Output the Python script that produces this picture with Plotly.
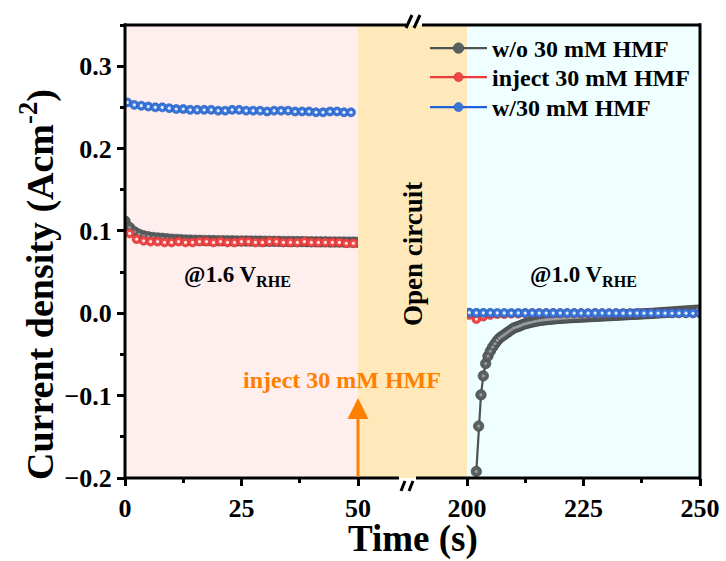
import numpy as np
import plotly.graph_objects as go

# ---------------- data ----------------
# sampling times (s); the middle open-circuit interval (50-200 s) carries no current
t_wo_a = np.arange(0.0, 50.5, 1.0)        # w/o HMF, polarised at 1.6 V
t_wo_b = np.arange(202.0, 250.25, 0.5)    # w/o HMF, polarised at 1.0 V
t_inj_a = np.arange(1.0, 49.5, 1.5)
t_inj_b = np.arange(200.5, 250.5, 1.5)
t_w_a = np.arange(0.5, 49.0, 1.5)
t_w_b = np.arange(200.5, 250.5, 1.5)

j_wo_a = [0.112, 0.104, 0.099, 0.096, 0.094, 0.093, 0.092, 0.0915, 0.091, 0.0905,
          0.0900, 0.0897, 0.0894, 0.0891, 0.0889, 0.0887, 0.0886, 0.0885, 0.0884, 0.0883,
          0.0882, 0.0881, 0.0880, 0.0880, 0.0879, 0.0878, 0.0878, 0.0877, 0.0876, 0.0876,
          0.0875, 0.0874, 0.0874, 0.0873, 0.0872, 0.0872, 0.0871, 0.0870, 0.0870, 0.0869,
          0.0868, 0.0868, 0.0867, 0.0867, 0.0866, 0.0866, 0.0865, 0.0865, 0.0864, 0.0864,
          0.0863]
j_wo_b = [-0.192, -0.137, -0.099, -0.076, -0.061, -0.052, -0.046, -0.041, -0.037, -0.033,
          -0.030, -0.028, -0.026, -0.024, -0.022, -0.020, -0.018, -0.017, -0.016, -0.015,
          -0.0135, -0.0127, -0.0120, -0.0113, -0.0106, -0.0100, -0.0094, -0.0089, -0.0085, -0.0081,
          -0.0078, -0.0075, -0.0072, -0.0069, -0.0067, -0.0064, -0.0062, -0.0060, -0.0058, -0.0056,
          -0.0054, -0.0053, -0.0051, -0.0050, -0.0048, -0.0047, -0.0045, -0.0044, -0.0042, -0.0041,
          -0.0039, -0.0038, -0.0036, -0.0035, -0.0033, -0.0032, -0.0030, -0.0029, -0.0027, -0.0026,
          -0.0024, -0.0023, -0.0021, -0.0020, -0.0018, -0.0017, -0.0015, -0.0014, -0.0012, -0.0011,
          -0.0009, -0.0008, -0.0006, -0.0005, -0.0003, -0.0002, 0.0000, 0.0002, 0.0004, 0.0006,
          0.0008, 0.0010, 0.0012, 0.0014, 0.0016, 0.0018, 0.0020, 0.0022, 0.0024, 0.0026,
          0.0028, 0.0030, 0.0032, 0.0034, 0.0036, 0.0038, 0.0040]
j_inj_a = [0.097, 0.090, 0.088, 0.087, 0.087, 0.086, 0.086, 0.087, 0.086, 0.086,
           0.087, 0.087, 0.086, 0.087, 0.086, 0.086, 0.087, 0.087, 0.086, 0.086,
           0.087, 0.087, 0.086, 0.086, 0.086, 0.087, 0.086, 0.086, 0.086, 0.086,
           0.086, 0.085, 0.085]
j_inj_b = [-0.002, -0.007, -0.004, -0.002, -0.001, -0.001, -0.0005, -0.0005, 0.0, 0.0,
           0.0, 0.0, 0.0002, 0.0, 0.0, 0.0001, 0.0, 0.0, 0.0002, 0.0,
           0.0, 0.0, 0.0001, 0.0, 0.0, 0.0, 0.0002, 0.0, 0.0, 0.0001,
           0.0, 0.0, 0.0, 0.0]
j_w_a = [0.256, 0.253, 0.252, 0.251, 0.250, 0.250, 0.249, 0.248, 0.248, 0.247,
         0.247, 0.247, 0.247, 0.246, 0.246, 0.247, 0.247, 0.246, 0.246, 0.246,
         0.245, 0.246, 0.246, 0.246, 0.245, 0.245, 0.245, 0.244, 0.244, 0.245,
         0.245, 0.244, 0.244]
j_w_b = [0.0008, 0.0006, 0.0005, 0.0005, 0.0004, 0.0004, 0.0003, 0.0004, 0.0003, 0.0003,
         0.0002, 0.0003, 0.0002, 0.0002, 0.0003, 0.0002, 0.0002, 0.0001, 0.0002, 0.0002,
         0.0001, 0.0002, 0.0001, 0.0001, 0.0002, 0.0001, 0.0001, 0.0001, 0.0001, 0.0000,
         0.0001, 0.0001, 0.0000, 0.0001]

series_names = ["w/o 30 mM HMF", "inject 30 mM HMF", "w/30 mM HMF"]
x_ticks_a = [0, 25, 50]
x_ticks_b = [200, 225, 250]

# ---------------- style ----------------
FONT = "Liberation Serif, Times New Roman, serif"
W, H = 726, 561
L, R, T, B = 125, 26, 25, 83
PW, PH = W - L - R, H - T - B
d1 = 233 / PW          # end of the 0-50 s panel
d2 = 342 / PW          # start of the 200-250 s panel

def px_x(p):
    return (p - L) / PW

def px_y(p):
    return (H - B - p) / PH

styles = {
    "wo": dict(line="#4C5454", mk="#5A6060", edge="#3A4040", size=10.5,
               legend="legend", hi="#C8CCCC", hi_op=0.55),
    "inj": dict(line="#EE3A3A", mk="#F04646", edge="#C42C2C", size=9,
                legend="legend2", hi="white", hi_op=0.85),
    "w": dict(line="#1F62D6", mk="#3A76DA", edge="#1F56B0", size=9,
              legend="legend3", hi="white", hi_op=0.85),
}

fig = go.Figure()

def add(t, j, key, name, xa, show):
    s = styles[key]
    fig.add_trace(go.Scatter(
        x=t, y=j, mode="lines+markers", name=name, legendgroup=key,
        legend=s["legend"], showlegend=show, xaxis=xa, yaxis="y",
        line=dict(color=s["line"], width=2.2),
        marker=dict(size=s["size"], color=s["mk"], symbol="circle",
                    line=dict(color=s["edge"], width=0.6)),
    ))
    # specular highlight in the middle of each sphere marker
    fig.add_trace(go.Scatter(
        x=t, y=j, mode="markers", showlegend=False, hoverinfo="skip",
        xaxis=xa, yaxis="y",
        marker=dict(size=3.2, color=s["hi"], opacity=s["hi_op"], line=dict(width=0)),
    ))

add(t_wo_a, j_wo_a, "wo", series_names[0], "x", True)
add(t_inj_a, j_inj_a, "inj", series_names[1], "x", True)
add(t_w_a, j_w_a, "w", series_names[2], "x", True)
add(t_wo_b, j_wo_b, "wo", series_names[0], "x3", False)
add(t_inj_b, j_inj_b, "inj", series_names[1], "x3", False)
add(t_w_b, j_w_b, "w", series_names[2], "x3", False)

tickfont = dict(family=FONT, size=26, color="black", weight="bold")
common_x = dict(showgrid=False, zeroline=False, showline=False, anchor="y",
                automargin=False, ticks="outside", ticklen=7, tickwidth=3,
                tickcolor="black", tickfont=tickfont)

legend_font = dict(family=FONT, size=24, color="black", weight="bold")
def legend_box(top_px):
    return dict(x=px_x(425), y=px_y(top_px), xanchor="left", yanchor="top",
                bgcolor="rgba(0,0,0,0)", borderwidth=0, itemwidth=57,
                font=legend_font)

fig.update_layout(
    template="none",
    width=W, height=H,
    margin=dict(l=L, r=R, t=T, b=B),
    paper_bgcolor="white", plot_bgcolor="rgba(0,0,0,0)",
    font=dict(family=FONT, color="black"),
    xaxis=dict(domain=[0, d1], range=[0, 50], tickvals=x_ticks_a,
               minor=dict(dtick=12.5, tick0=0, ticks="outside", ticklen=4,
                          tickwidth=3, tickcolor="black", showgrid=False), **common_x),
    xaxis2=dict(domain=[d1, d2], range=[50, 200], showticklabels=False,
                ticks="", showgrid=False, zeroline=False, showline=False,
                automargin=False, anchor="y"),
    xaxis3=dict(domain=[d2, 1], range=[200, 250], tickvals=x_ticks_b,
                minor=dict(dtick=12.5, tick0=200, ticks="outside", ticklen=4,
                           tickwidth=3, tickcolor="black", showgrid=False), **common_x),
    yaxis=dict(range=[-0.2, 0.35], anchor="x", tickmode="linear", tick0=-0.2,
               dtick=0.1, tickformat=".1f", showgrid=False, zeroline=False,
               showline=False, automargin=False, ticks="outside", ticklen=7,
               tickwidth=3, tickcolor="black", tickfont=tickfont,
               minor=dict(dtick=0.05, tick0=-0.2, ticks="outside", ticklen=4,
                          tickwidth=3, tickcolor="black", showgrid=False)),
    legend=legend_box(26),
    legend2=legend_box(55),
    legend3=legend_box(85),
    showlegend=True,
)

# shaded regions: polarised at 1.6 V, open circuit, polarised at 1.0 V
shapes = [
    dict(type="rect", xref="x", yref="paper", x0=0, x1=50, y0=0, y1=1,
         fillcolor="#FFEEEE", line_width=0, layer="below"),
    dict(type="rect", xref="x2", yref="paper", x0=50, x1=200, y0=0, y1=1,
         fillcolor="#FFE9BA", line_width=0, layer="below"),
    dict(type="rect", xref="x3", yref="paper", x0=200, x1=250, y0=0, y1=1,
         fillcolor="#EFFFFF", line_width=0, layer="below"),
]

# frame with a broken top and bottom edge
frame = dict(color="black", width=3)
gx0t, gx1t = px_x(406), px_x(422)
gx0b, gx1b = px_x(399), px_x(416)
shapes += [
    dict(type="line", xref="paper", yref="paper", x0=0, x1=0, y0=-0.004, y1=1.004, line=frame),
    dict(type="line", xref="paper", yref="paper", x0=1, x1=1, y0=-0.004, y1=1.004, line=frame),
    dict(type="line", xref="paper", yref="paper", x0=0, x1=gx0t, y0=1, y1=1, line=frame),
    dict(type="line", xref="paper", yref="paper", x0=gx1t, x1=1, y0=1, y1=1, line=frame),
    dict(type="line", xref="paper", yref="paper", x0=0, x1=gx0b, y0=0, y1=0, line=frame),
    dict(type="line", xref="paper", yref="paper", x0=gx1b, x1=1, y0=0, y1=0, line=frame),
]
# break marks
brk = dict(color="black", width=3)
for (xa, ya, xb, yb) in [(406, 28, 412, 15), (414, 28, 420, 15),
                         (401, 491, 405, 481), (409, 491, 413, 481)]:
    shapes.append(dict(type="line", xref="paper", yref="paper",
                       x0=px_x(xa), y0=px_y(ya), x1=px_x(xb), y1=px_y(yb), line=brk))
fig.update_layout(shapes=shapes)

bold = dict(family=FONT, color="black", weight="bold")
annotations = [
    # axis titles
    dict(text="Current density (Acm<sup>-2</sup>)", xref="paper", yref="paper",
         x=px_x(37), y=px_y(285), textangle=-90, showarrow=False,
         xanchor="center", yanchor="middle", font=dict(size=38, **bold)),
    dict(text="Time (s)", xref="paper", yref="paper", x=px_x(413), y=px_y(539),
         showarrow=False, xanchor="center", yanchor="middle", font=dict(size=37, **bold)),
    # region labels
    dict(text="@1.6 V<sub>RHE</sub>", xref="paper", yref="paper", x=px_x(237), y=px_y(276),
         showarrow=False, xanchor="center", yanchor="middle", font=dict(size=23, **bold)),
    dict(text="@1.0 V<sub>RHE</sub>", xref="paper", yref="paper", x=px_x(583), y=px_y(276),
         showarrow=False, xanchor="center", yanchor="middle", font=dict(size=23, **bold)),
    dict(text="Open circuit", xref="paper", yref="paper", x=px_x(413), y=px_y(254),
         textangle=-90, showarrow=False, xanchor="center", yanchor="middle",
         font=dict(size=27, **bold)),
    # injection marker
    dict(text="inject 30 mM HMF", xref="paper", yref="paper", x=px_x(342), y=px_y(380),
         showarrow=False, xanchor="center", yanchor="middle",
         font=dict(family=FONT, size=24, color="#FF8000", weight="bold")),
    dict(text="", x=50, y=-0.103, xref="x", yref="y", ax=50, ay=-0.2,
         axref="x", ayref="y", showarrow=True, arrowhead=2, arrowsize=1.4,
         arrowwidth=3, arrowcolor="#FF8000", standoff=0),
]
fig.update_layout(annotations=annotations)

fig.write_html("out.html")
